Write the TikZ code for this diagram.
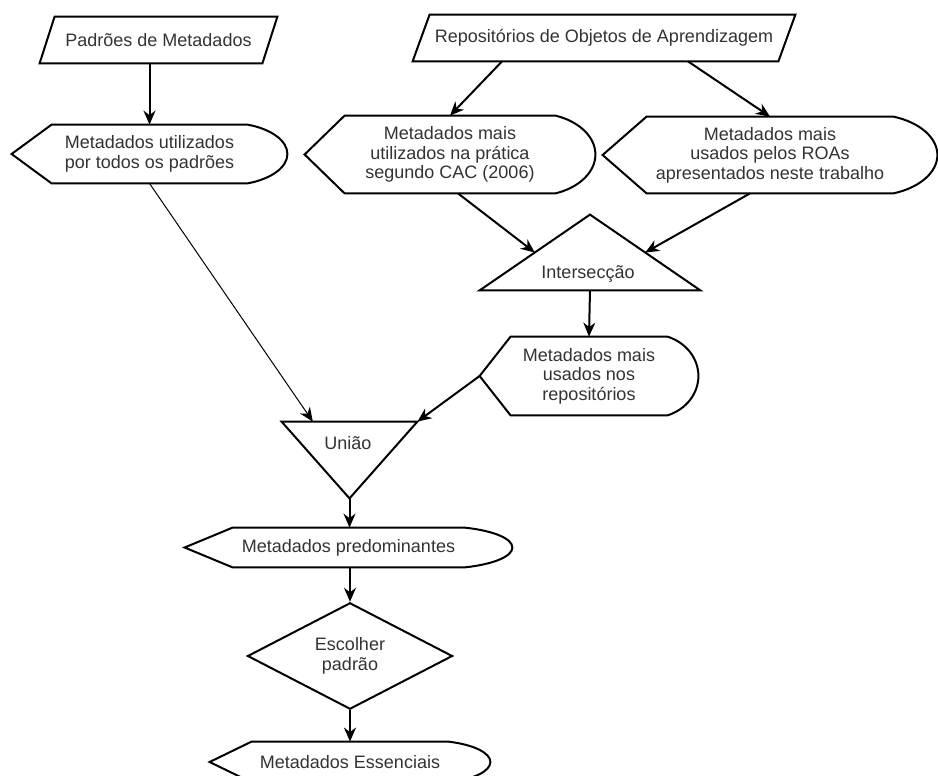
\documentclass[tikz,border=0pt]{standalone}
\usepackage{fontspec}
\setmainfont{Liberation Sans}
\usetikzlibrary{shapes.geometric, arrows.meta, calc}

\newcommand{\paral}[2]{\draw[shp] (#1.south west) -- ($(#1.north west)+(#2,0)$) -- (#1.north east) -- ($(#1.south east)+(-#2,0)$) -- cycle;}
\newcommand{\dispshape}[2][42]{\draw[shp] (#2.west) -- ($(#2.north west)+(#1,0)$) -- ($(#2.north east)+(-#1,0)$)
  .. controls ($(#2.north east)!0.15!(#2.east)+(-0.4*#1,0)$) and ($(#2.east)!0.45!(#2.north east)$) .. (#2.east)
  .. controls ($(#2.east)!0.45!(#2.south east)$) and ($(#2.south east)!0.15!(#2.east)+(-0.4*#1,0)$) .. ($(#2.south east)+(-#1,0)$)
  -- ($(#2.south west)+(#1,0)$) -- cycle;}
\newcommand{\triup}[1]{\draw[shp] (#1.south west) -- (#1.north) -- (#1.south east) -- cycle;}
\newcommand{\tridown}[1]{\draw[shp] (#1.north west) -- (#1.south) -- (#1.north east) -- cycle;}

\tikzset{
  shp/.style={draw=black, line width=1pt},
  hold/.style={inner sep=0pt, align=center, text=black!80, font=\fontsize{9}{9.8}\selectfont},
  arr/.style={-{Stealth[length=7pt,width=6pt]}, line width=1pt},
}

\begin{document}
\begin{tikzpicture}[x=0.5pt, y=-0.5pt]
\fill[white] (0,0) rectangle (938,776);
\useasboundingbox (0,0) rectangle (938,776);

\node[hold, minimum width=118.5pt, minimum height=23pt] (pm) at (158.5,40) {Padrões de Metadados};
\node[hold, minimum width=191pt, minimum height=23pt] (roa) at (604,38) {Repositórios de Objetos de Aprendizagem};
\node[hold, minimum width=137.5pt, minimum height=29pt] (mt) at (149.5,154) {Metadados utilizados\\por todos os padrões};
\node[hold, minimum width=145pt, minimum height=38.5pt] (cac) at (450,154.5) {Metadados mais\\utilizados na prática\\segundo CAC (2006)};
\node[hold, minimum width=167pt, minimum height=38pt] (ra) at (770,155) {Metadados mais\\usados pelos ROAs\\apresentados neste trabalho};
\node[hold, minimum width=110pt, minimum height=37.5pt] (int) at (590,252.5) {};
\node[hold] (intlbl) at (588,274) {Intersecção};
\node[hold, minimum width=109pt, minimum height=39pt] (mr) at (589,376) {Metadados mais\\usados nos\\repositórios};
\node[hold, minimum width=67.5pt, minimum height=38pt] (un) at (349.5,460) {};
\node[hold] (unlbl) at (348,443) {União};
\node[hold, minimum width=163.5pt, minimum height=19.5pt] (mp) at (348.5,547.5) {Metadados predominantes};
\node[hold, shp, diamond, minimum width=102.5pt, minimum height=51pt] (ep) at (350,656) {Escolher\\padrão};
\node[hold, minimum width=140pt, minimum height=20pt] (me) at (350,762) {Metadados Essenciais};

\paral{pm}{15}
\paral{roa}{17}
\dispshape[40]{mt}
\dispshape[40]{cac}
\dispshape[44]{ra}
\triup{int}
\dispshape[31]{mr}
\tridown{un}
\dispshape[48]{mp}
\dispshape[42]{me}

\draw[arr] (mt.north |- pm.south) -- (mt.north);
\draw[arr] ($(roa.south)+(-102,0)$) -- (cac.north);
\draw[arr] ($(roa.south)+(84,0)$) -- (ra.north);
\draw[arr] ($(cac.south)+(8,0)$) -- ($(int.south west)!0.5!(int.north)$);
\draw[arr] ($(ra.south)+(-20,0)$) -- ($(int.south east)!0.5!(int.north)$);
\draw[arr] (int.south) -- (mr.north);
\draw[arr] (mr.west) -- (un.north east);
\draw[-{Stealth[length=7pt,width=6pt]}, line width=0.5pt] (mt.south) -- ($(un.north west)!0.23!(un.north east)$);
\draw[arr] (un.south) -- (un.south |- mp.north);
\draw[arr] (ep.north |- mp.south) -- (ep.north);
\draw[arr] (ep.south) -- (me.north);
\end{tikzpicture}
\end{document}
